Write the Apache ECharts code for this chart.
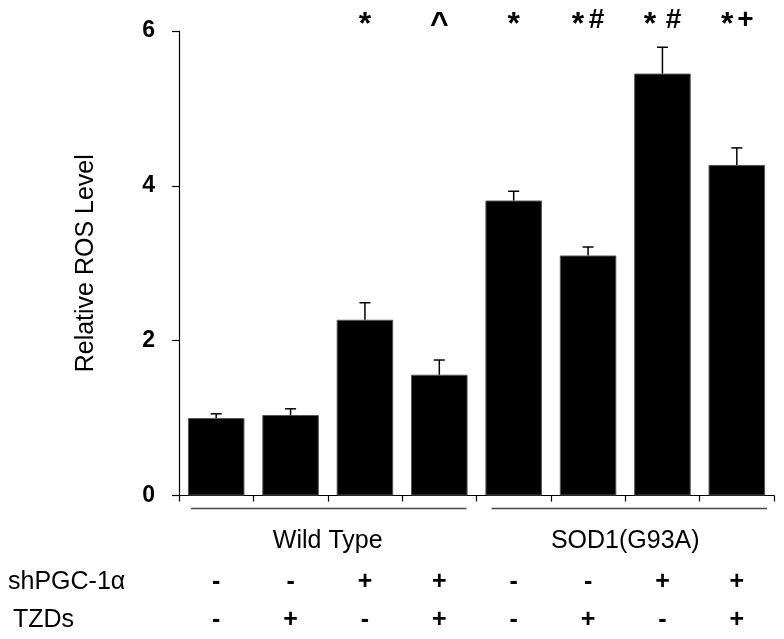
<!DOCTYPE html>
<html><head><meta charset="utf-8">
<script src="https://cdn.jsdelivr.net/npm/echarts@6/dist/echarts.min.js"></script>
<style>html,body{margin:0;padding:0;background:#fff}#c{width:784px;height:639px}</style>
</head><body><div id="c"></div>
<script>
var categories = ['WT-1','WT-2','WT-3','WT-4','SOD-1','SOD-2','SOD-3','SOD-4'];
var means = [1.00, 1.04, 2.27, 1.56, 3.81, 3.10, 5.45, 4.27];
var errUpper = [1.055, 1.12, 2.49, 1.75, 3.93, 3.21, 5.79, 4.49];
var sigMarks = ['', '', '*', '^', '*', '*#', '* #', '*+'];
var shPGC = ['-', '-', '+', '+', '-', '-', '+', '+'];
var tzds = ['-', '+', '-', '+', '-', '+', '-', '+'];
var groups = [{name: 'Wild Type', from: 0, to: 3}, {name: 'SOD1(G93A)', from: 4, to: 7}];
var yTicks = [0, 2, 4, 6];

var FONT = '"Liberation Sans", Arial, sans-serif';
var chart = echarts.init(document.getElementById('c'));
chart.setOption({
  animation: false,
  grid: {left: 179, right: 10, top: 31, bottom: 143.5},
  xAxis: {
    type: 'category', data: categories, boundaryGap: true,
    axisLine: {lineStyle: {color: '#000', width: 1.2}},
    axisTick: {show: true, length: 6, lineStyle: {color: '#000', width: 1.2}},
    axisLabel: {show: false}
  },
  yAxis: {
    type: 'value', min: 0, max: 6, interval: 2,
    name: 'Relative ROS Level', nameLocation: 'middle', nameGap: 80,
    nameTextStyle: {fontFamily: FONT, fontSize: 25, color: '#000'},
    axisLine: {show: true, lineStyle: {color: '#000', width: 1.2}},
    axisTick: {show: true, length: 7, lineStyle: {color: '#000', width: 1.2}},
    axisLabel: {fontFamily: FONT, fontSize: 23, fontWeight: 'bold', color: '#000', margin: 24,
      formatter: function (v) { return yTicks.indexOf(v) >= 0 ? String(v) : ''; }},
    splitLine: {show: false}
  },
  series: [
    {type: 'bar', data: means, barWidth: '76%',
     itemStyle: {color: '#000', borderColor: '#555', borderWidth: 1}, z: 2},
    {type: 'custom', z: 3,
     data: errUpper.map(function (e, i) { return [i, means[i], e]; }),
     renderItem: function (params, api) {
       var i = api.value(0);
       var top = api.coord([i, api.value(2)]);
       var base = api.coord([i, api.value(1)]);
       var hw = 5.5;
       return {type: 'group', children: [
         {type: 'line', shape: {x1: top[0], y1: base[1], x2: top[0], y2: top[1]}, style: {stroke: '#000', lineWidth: 1.5}},
         {type: 'line', shape: {x1: top[0] - hw, y1: top[1], x2: top[0] + hw, y2: top[1]}, style: {stroke: '#000', lineWidth: 1.5}}
       ]};
     }}
  ]
});

function px(i, v) { return chart.convertToPixel({xAxisIndex: 0, yAxisIndex: 0}, [i, v]); }
var g = [];
var zero = px(0, 0)[1];
var top6 = px(0, 6)[1];
var catW = px(1, 0)[0] - px(0, 0)[0];
// per-glyph rendering style for the significance symbols
var glyph = {
  '*': {size: 32, w: 12, dy: 5.2},
  '#': {size: 28, w: 15, dy: 0},
  '+': {size: 28, w: 14, dy: 0},
  '^': {size: 32, w: 16, dy: 5.5},
  ' ': {size: 20, w: 0, dy: 0}
};
var GAP = 5;
sigMarks.forEach(function (m, i) {
  if (!m) return;
  var cx = px(i, 6)[0];
  var chars = m.split('');
  var total = 0;
  chars.forEach(function (c, k) { total += glyph[c].w + (k > 0 ? GAP : 0); });
  var x = cx - total / 2;
  chars.forEach(function (c, k) {
    if (k > 0) x += GAP;
    var gs = glyph[c];
    if (c !== ' ') {
      g.push({type: 'text', x: x + gs.w / 2, y: top6 - 11 + gs.dy,
        style: {text: c, fontFamily: FONT, fontSize: gs.size, fontWeight: 'bold', fill: '#000', align: 'center', verticalAlign: 'middle'}});
    }
    x += gs.w;
  });
});
// group lines and labels
groups.forEach(function (gr, k) {
  var x1 = px(gr.from, 0)[0] - catW / 2 + (k === 0 ? 12 : 15);
  var x2 = px(gr.to, 0)[0] + catW / 2 - (k === 0 ? 10 : 7);
  g.push({type: 'line', shape: {x1: x1, y1: zero + 13, x2: x2, y2: zero + 13}, style: {stroke: '#444', lineWidth: 1.5}});
  var cx = (px(gr.from, 0)[0] + px(gr.to, 0)[0]) / 2;
  g.push({type: 'text', x: cx, y: zero + 46, style: {text: gr.name, fontFamily: FONT, fontSize: 25, fill: '#000', align: 'center', verticalAlign: 'middle'}});
});
// condition rows
var rows = [{label: 'shPGC-1α', vals: shPGC, dy: 87, lx: 8}, {label: 'TZDs', vals: tzds, dy: 125, lx: 13}];
rows.forEach(function (r) {
  g.push({type: 'text', x: r.lx, y: zero + r.dy, style: {text: r.label, fontFamily: FONT, fontSize: 25, fill: '#000', align: 'left', verticalAlign: 'middle'}});
  r.vals.forEach(function (s, i) {
    g.push({type: 'text', x: px(i, 0)[0], y: zero + r.dy, style: {text: s, fontFamily: FONT, fontSize: 25, fontWeight: 'bold', fill: '#000', align: 'center', verticalAlign: 'middle'}});
  });
});
chart.setOption({graphic: g});
</script>
</body></html>
